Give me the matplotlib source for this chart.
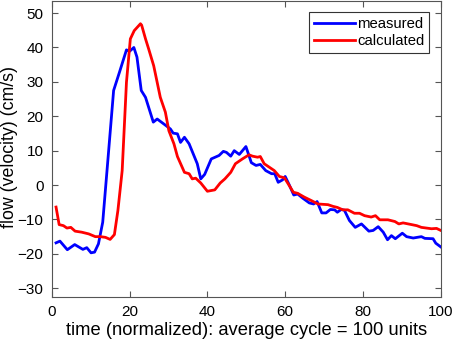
import numpy as np
import matplotlib
import matplotlib.pyplot as plt

matplotlib.use('Agg')

# measured flow
t_measured = [1.1, 2.1, 4.0, 5.9, 8.0, 9.0, 10.1, 11.0, 12.0, 13.1, 14.2, 15.9, 17.4, 19.2,
              20.0, 21.1, 21.9, 23.0, 24.1, 26.1, 27.1, 29.0, 30.5, 31.2, 32.3, 33.1, 34.1,
              35.3, 37.4, 38.3, 39.3, 41.0, 43.0, 44.1, 44.9, 46.0, 46.9, 48.2, 49.9, 51.3,
              52.5, 53.6, 55.0, 56.5, 57.3, 58.2, 59.3, 60.0, 61.1, 62.2, 63.2, 64.5, 66.2,
              67.3, 68.2, 69.4, 70.5, 71.6, 72.7, 73.4, 74.4, 75.2, 76.5, 78.0, 79.6, 81.5,
              82.6, 83.9, 85.2, 86.3, 87.3, 88.3, 90.1, 91.2, 92.9, 95.0, 95.9, 98.0, 98.7,
              100.0]
v_measured = [-16.8, -16.3, -18.8, -17.3, -18.7, -18.2, -19.7, -19.5, -17.1, -10.8, 4.2, 27.5,
              32.8, 39.3, 38.9, 40.0, 37.2, 27.5, 25.5, 18.3, 19.2, 17.6, 16.3, 15.1, 14.9,
              12.4, 13.9, 12.0, 6.2, 1.8, 3.1, 7.6, 8.6, 9.8, 9.5, 8.4, 10.0, 8.9, 11.2, 6.5,
              5.7, 6.0, 4.2, 3.3, 3.3, 0.8, 1.5, 2.5, -0.1, -2.9, -2.6, -3.8, -5.2, -5.5,
              -4.8, -8.1, -8.1, -7.1, -7.2, -7.9, -7.1, -7.3, -10.3, -12.3, -11.3, -13.4,
              -13.2, -12.1, -13.7, -15.9, -14.7, -15.6, -14.0, -15.0, -15.4, -15.0, -15.5,
              -15.6, -16.9, -18.0]

# calculated flow
t_calculated = [1.1, 1.9, 3.0, 3.9, 4.9, 6.0, 7.7, 9.5, 11.2, 12.5, 13.8, 15.0, 16.1, 17.0,
                18.1, 19.2, 20.2, 21.2, 22.8, 23.1, 24.1, 24.9, 26.2, 27.9, 29.2, 30.1, 31.4,
                32.3, 34.1, 35.3, 36.1, 37.0, 38.3, 40.0, 41.9, 43.3, 44.5, 46.0, 47.2, 49.0,
                50.7, 51.6, 52.9, 53.6, 54.6, 55.9, 57.2, 58.5, 59.8, 60.8, 62.1, 63.2, 64.9,
                66.7, 68.4, 71.0, 72.3, 73.4, 74.8, 76.1, 77.8, 79.1, 80.4, 82.1, 83.2, 84.3,
                86.4, 88.2, 89.2, 90.3, 92.5, 93.8, 95.0, 97.6, 98.9, 100.0]
v_calculated = [-6.4, -11.5, -11.8, -12.5, -12.3, -13.4, -13.7, -14.2, -15.0, -15.0, -15.2,
                -15.8, -14.4, -7.4, 4.2, 29.9, 42.5, 44.9, 46.9, 46.5, 42.5, 39.6, 34.7, 25.5,
                21.2, 15.8, 12.0, 8.3, 3.7, 3.3, 1.8, 2.0, 0.6, -1.8, -1.4, 0.6, 1.8, 3.7, 6.2,
                7.6, 8.8, 8.4, 8.1, 8.3, 6.2, 5.2, 4.2, 2.5, 2.1, 0.3, -2.1, -2.4, -3.5, -4.5,
                -5.5, -5.7, -6.2, -6.5, -7.2, -7.2, -8.2, -8.2, -8.9, -9.3, -8.9, -10.1, -10.1,
                -10.6, -11.3, -11.0, -11.5, -11.8, -12.3, -12.7, -12.6, -13.2]

x_ticks = [0, 20, 40, 60, 80, 100]
y_ticks = [-30, -20, -10, 0, 10, 20, 30, 40, 50]

plt.rcParams['font.family'] = ['Liberation Sans', 'DejaVu Sans']

fig = plt.figure(figsize=(4.54, 3.48), dpi=100)
ax = fig.add_axes([0.114, 0.147, 0.857, 0.849])

ax.plot(t_measured, v_measured, color='#0000ff', lw=2, label='measured')
ax.plot(t_calculated, v_calculated, color='#ff0000', lw=2, label='calculated')

ax.set_xlim(0, 100)
ax.set_ylim(-32.5, 53.4)
ax.set_xticks(x_ticks)
ax.set_yticks(y_ticks)
ax.tick_params(direction='in', top=True, right=True, labelsize=11, length=4,
               color='#555555', pad=6)
for sp in ax.spines.values():
    sp.set_color('#555555')

ax.set_xlabel('time (normalized): average cycle = 100 units', fontsize=13.2, labelpad=2)
ax.set_ylabel('flow (velocity) (cm/s)', fontsize=12.8)
ax.yaxis.set_label_coords(-0.088, 0.506)

leg = ax.legend(loc='upper right', fontsize=10.7, fancybox=False, framealpha=1,
                edgecolor='#333333', handlelength=2.8, handletextpad=0.15,
                borderpad=0.3, labelspacing=0.25, borderaxespad=0,
                bbox_to_anchor=(0.970, 0.963))
leg.get_frame().set_linewidth(0.8)

plt.savefig('out.png', dpi=100)
plt.close()
